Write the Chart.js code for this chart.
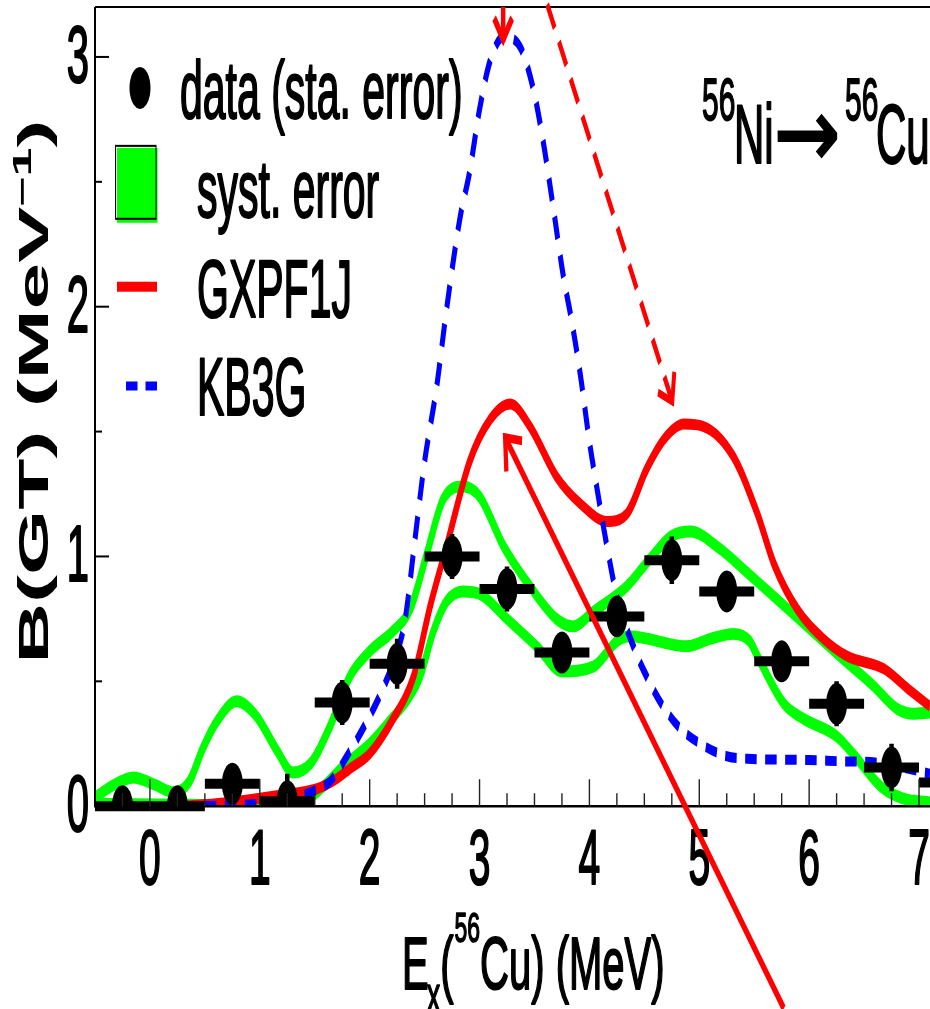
<!DOCTYPE html>
<html>
<head>
<meta charset="utf-8">
<script src="https://cdn.jsdelivr.net/npm/chart.js@4.4.1/dist/chart.umd.min.js"></script>
<style>
html,body{margin:0;padding:0;background:#fff;overflow:hidden}
canvas{display:block}
</style>
</head>
<body>
<canvas id="c" width="930" height="505" style="width:930px;height:1009px"></canvas>
<script>
// ---- data ----
const binCenters = [-0.25, 0.25, 0.75, 1.25, 1.75, 2.25, 2.75, 3.25, 3.75, 4.25, 4.75, 5.25, 5.75, 6.25, 6.75, 7.25];
const bgtValues  = [0.0, 0.0, 0.09, 0.02, 0.415, 0.57, 1.0, 0.87, 0.615, 0.76, 0.985, 0.86, 0.58, 0.41, 0.155, 0.095];
const statErrors = [0.03, 0.03, 0.07, 0.11, 0.09, 0.10, 0.09, 0.09, 0.08, 0.08, 0.095, 0.08, 0.08, 0.09, 0.095, 0.08];
const binHalfWidth = 0.25;

const gxpf1jX = [0.3, 0.6, 0.97, 1.2, 1.52, 1.7, 1.82, 2.0, 2.2, 2.4, 2.55, 2.7, 2.91, 3.1, 3.28, 3.46, 3.7, 3.92, 4.16, 4.34, 4.52, 4.68, 4.86, 5.04, 5.31, 5.53, 5.68, 5.89, 6.13, 6.35, 6.68, 6.9, 7.1];
const gxpf1jY = [0.0, 0.01, 0.03, 0.045, 0.07, 0.11, 0.15, 0.21, 0.34, 0.52, 0.80, 1.04, 1.38, 1.55, 1.61, 1.52, 1.32, 1.21, 1.14, 1.17, 1.35, 1.47, 1.53, 1.52, 1.40, 1.17, 0.97, 0.79, 0.67, 0.60, 0.55, 0.47, 0.40];

const kb3gX = [0.5, 1.0, 1.3, 1.46, 1.64, 1.82, 2.0, 2.1, 2.21, 2.32, 2.41, 2.5, 2.61, 2.7, 2.82, 2.91, 3.0, 3.1, 3.22, 3.37, 3.49, 3.58, 3.67, 3.76, 3.84, 3.92, 4.0, 4.07, 4.16, 4.25, 4.4, 4.52, 4.67, 4.83, 5.01, 5.25, 5.44, 6.0, 6.28, 6.6, 6.85, 7.1];
const kb3gY = [0.0, 0.01, 0.03, 0.055, 0.10, 0.22, 0.36, 0.45, 0.57, 0.74, 1.06, 1.38, 1.68, 1.99, 2.35, 2.54, 2.79, 2.99, 3.08, 3.04, 2.87, 2.66, 2.40, 2.13, 1.94, 1.72, 1.46, 1.27, 1.04, 0.84, 0.64, 0.52, 0.40, 0.31, 0.25, 0.20, 0.19, 0.185, 0.18, 0.175, 0.155, 0.13];

const systUpperX = [-0.5, -0.35, -0.15, 0.05, 0.22, 0.36, 0.48, 0.61, 0.79, 0.97, 1.16, 1.3, 1.46, 1.64, 1.82, 2.0, 2.21, 2.37, 2.52, 2.67, 2.85, 3.0, 3.22, 3.46, 3.7, 3.85, 4.04, 4.34, 4.55, 4.74, 4.92, 5.19, 5.4, 5.68, 5.98, 6.28, 6.59, 6.8, 6.95, 7.1];
const systUpperY = [0.035, 0.08, 0.115, 0.085, 0.055, 0.10, 0.23, 0.34, 0.42, 0.36, 0.22, 0.135, 0.17, 0.32, 0.52, 0.62, 0.70, 0.79, 1.01, 1.23, 1.28, 1.24, 1.04, 0.88, 0.75, 0.72, 0.78, 0.88, 0.99, 1.08, 1.10, 1.03, 0.95, 0.84, 0.72, 0.60, 0.48, 0.39, 0.37, 0.375];

const systLowerX = [-0.5, 0.5, 1.0, 1.4, 1.58, 1.76, 2.0, 2.2, 2.35, 2.46, 2.58, 2.7, 2.85, 3.0, 3.25, 3.52, 3.75, 4.04, 4.25, 4.37, 4.89, 5.1, 5.31, 5.46, 5.53, 5.77, 5.95, 6.25, 6.4, 6.65, 6.86, 7.1];
const systLowerY = [0.01, 0.005, 0.005, 0.02, 0.08, 0.16, 0.25, 0.35, 0.43, 0.52, 0.70, 0.82, 0.86, 0.85, 0.75, 0.64, 0.54, 0.56, 0.66, 0.68, 0.64, 0.67, 0.69, 0.66, 0.60, 0.41, 0.35, 0.28, 0.21, 0.08, 0.03, 0.015];

const xTickLabels = ['0', '1', '2', '3', '4', '5', '6', '7'];
const yTickLabels = ['0', '1', '2', '3'];
const legendLabels = ['data (sta. error)', 'syst. error', 'GXPF1J', 'KB3G'];

// annotation arrows, in data coordinates [x, y]
const arrowSolidFrom = [5.77, -0.81], arrowSolidTo = [3.233, 1.476];
const arrowDashFrom = [3.616, 3.21], arrowDashTo = [4.754, 1.62];
const arrowTopFrom = [3.215, 3.2], arrowTopTo = [3.215, 3.07];

// ---- rendering ----
const STRETCH = 1009 / 505;
const FONT = '"Liberation Sans", Arial, Helvetica, sans-serif';
const pts = (xs, ys) => xs.map((x, i) => ({x: x, y: ys[i]}));

// text drawn slightly heavier, like the original ROOT output
function heavyText(ctx, s, x, y, w) {
  ctx.fillText(s, x, y);
  ctx.save();
  ctx.lineWidth = w || 1.1;
  ctx.strokeStyle = ctx.fillStyle;
  ctx.lineJoin = 'round';
  ctx.strokeText(s, x, y);
  ctx.restore();
}

function arrowHead(ctx, x1, y1, x2, y2, len, ang) {
  const a = Math.atan2(y1 - y2, x1 - x2);
  ctx.setLineDash([]);
  ctx.beginPath();
  ctx.moveTo(x2 + len * Math.cos(a + ang), y2 + len * Math.sin(a + ang));
  ctx.lineTo(x2, y2);
  ctx.lineTo(x2 + len * Math.cos(a - ang), y2 + len * Math.sin(a - ang));
  ctx.stroke();
}
function drawArrow(chart, from, to, width, dash, len) {
  const ctx = chart.ctx, xs = chart.scales.x, ys = chart.scales.y;
  const x1 = xs.getPixelForValue(from[0]), y1 = ys.getPixelForValue(from[1]);
  const x2 = xs.getPixelForValue(to[0]), y2 = ys.getPixelForValue(to[1]);
  ctx.save();
  ctx.strokeStyle = '#ff0000';
  ctx.lineWidth = width;
  ctx.lineCap = 'butt';
  ctx.setLineDash(dash);
  ctx.beginPath(); ctx.moveTo(x1, y1); ctx.lineTo(x2, y2); ctx.stroke();
  ctx.lineJoin = 'miter';
  arrowHead(ctx, x1, y1, x2, y2, len, 0.7);
  ctx.restore();
}

const drawPlugin = {
  id: 'drawPlugin',
  beforeDraw(chart) {
    const ctx = chart.ctx;
    ctx.save();
    ctx.setTransform(1, 0, 0, STRETCH, 0, 0);
  },
  beforeDatasetDraw(chart, args) {
    if (args.index !== 0) return;
    const ctx = chart.ctx, xs = chart.scales.x, ys = chart.scales.y, ca = chart.chartArea;
    ctx.save();
    ctx.beginPath();
    ctx.rect(ca.left, ca.top, ca.right - ca.left, ca.bottom - ca.top + 3);
    ctx.clip();
    ctx.strokeStyle = '#000';
    ctx.lineCap = 'butt';
    for (let i = 0; i < binCenters.length; i++) {
      const cx = xs.getPixelForValue(binCenters[i]);
      const cy = ys.getPixelForValue(bgtValues[i]);
      ctx.lineWidth = 5;
      ctx.beginPath();
      ctx.moveTo(xs.getPixelForValue(binCenters[i] - binHalfWidth), cy);
      ctx.lineTo(xs.getPixelForValue(binCenters[i] + binHalfWidth), cy);
      ctx.stroke();
      ctx.lineWidth = 4.5;
      ctx.beginPath();
      ctx.moveTo(cx, ys.getPixelForValue(Math.max(0, bgtValues[i] - statErrors[i])));
      ctx.lineTo(cx, ys.getPixelForValue(bgtValues[i] + statErrors[i]));
      ctx.stroke();
    }
    ctx.restore();
  },
  afterDatasetsDraw(chart) {
    const ctx = chart.ctx, xs = chart.scales.x, ys = chart.scales.y, ca = chart.chartArea;
    ctx.save();
    ctx.strokeStyle = '#000';
    // frame lines
    ctx.lineWidth = 2;
    ctx.beginPath(); ctx.moveTo(ca.left, ca.top); ctx.lineTo(ca.left, ca.bottom + 0.6); ctx.stroke();
    ctx.lineWidth = 1;
    ctx.beginPath(); ctx.moveTo(ca.left, ca.top); ctx.lineTo(ca.right, ca.top); ctx.stroke();
    ctx.lineWidth = 1.3;
    ctx.beginPath(); ctx.moveTo(ca.left, ca.bottom); ctx.lineTo(ca.right, ca.bottom); ctx.stroke();
    // x ticks (inside)
    ctx.strokeStyle = '#222';
    ctx.lineWidth = 1.4;
    xs.ticks.forEach(t => {
      const v = t.value;
      if (Math.abs(v * 4 - Math.round(v * 4)) > 1e-6) return;
      const px = xs.getPixelForValue(v);
      if (px <= ca.left + 1) return;
      const major = Math.abs(v - Math.round(v)) < 1e-6;
      ctx.beginPath(); ctx.moveTo(px, ca.bottom); ctx.lineTo(px, ca.bottom - (major ? 13.5 : 6.5)); ctx.stroke();
    });
    // y ticks (inside)
    ctx.strokeStyle = '#000';
    ctx.lineWidth = 1;
    ys.ticks.forEach(t => {
      const v = t.value;
      if (Math.abs(v * 2 - Math.round(v * 2)) > 1e-6) return;
      const py = ys.getPixelForValue(v);
      if (py >= ca.bottom - 1) return;
      const major = Math.abs(v - Math.round(v)) < 1e-6;
      ctx.beginPath(); ctx.moveTo(ca.left, py); ctx.lineTo(ca.left + (major ? 14 : 7), py); ctx.stroke();
    });
    // tick labels
    ctx.fillStyle = '#000';
    ctx.font = '39px ' + FONT;
    ctx.textAlign = 'center';
    ctx.textBaseline = 'alphabetic';
    xs.ticks.forEach(t => {
      const v = t.value;
      if (Math.abs(v - Math.round(v)) > 1e-6) return;
      const idx = Math.round(v);
      if (idx < 0 || idx >= xTickLabels.length) return;
      heavyText(ctx, xTickLabels[idx], xs.getPixelForValue(v), 442.5);
    });
    ctx.font = '40px ' + FONT;
    ctx.textAlign = 'right';
    ctx.textBaseline = 'middle';
    ys.ticks.forEach(t => {
      const v = t.value;
      if (Math.abs(v - Math.round(v)) > 1e-6) return;
      const idx = Math.round(v);
      if (idx < 0 || idx >= yTickLabels.length) return;
      heavyText(ctx, yTickLabels[idx], 89, ys.getPixelForValue(v) + 1.5);
    });
    ctx.restore();
  },
  afterDraw(chart) {
    const ctx = chart.ctx;
    ctx.save();
    ctx.fillStyle = '#000';
    ctx.textAlign = 'left';
    ctx.textBaseline = 'alphabetic';

    // ---- legend ----
    ctx.beginPath(); ctx.arc(140, 44, 10.5, 0, Math.PI * 2); ctx.fill();
    ctx.fillStyle = '#00ff00';
    ctx.fillRect(117, 74, 40.5, 37.5);
    ctx.strokeStyle = '#000'; ctx.lineWidth = 1;
    ctx.strokeRect(115.5, 73, 40.5, 36.5);
    ctx.fillStyle = '#ff0000';
    ctx.fillRect(117, 141, 40, 5);
    ctx.strokeStyle = '#0000ff'; ctx.lineWidth = 4.5; ctx.setLineDash([11.5, 8]);
    ctx.beginPath(); ctx.moveTo(126, 193.2); ctx.lineTo(157, 193.2); ctx.stroke();
    ctx.setLineDash([]);
    ctx.fillStyle = '#000';
    ctx.font = '41px ' + FONT;
    heavyText(ctx, legendLabels[0], 180, 59);
    heavyText(ctx, legendLabels[1], 197, 108.5);
    heavyText(ctx, legendLabels[2], 197, 158.5);
    heavyText(ctx, legendLabels[3], 197, 207.5);

    // ---- reaction label 56Ni -> 56Cu ----
    ctx.font = '30px ' + FONT;
    heavyText(ctx, '56', 702, 60, 0.9);
    ctx.font = '42px ' + FONT;
    heavyText(ctx, 'Ni', 734, 81.5);
    ctx.save();
    ctx.font = 'bold 40px "DejaVu Sans", sans-serif';
    const m = ctx.measureText('→');
    const L = m.actualBoundingBoxLeft, R = m.actualBoundingBoxRight;
    const A = m.actualBoundingBoxAscent, D = m.actualBoundingBoxDescent;
    ctx.translate(777, 56.5);
    ctx.scale(61 / (L + R), 23.5 / (A + D));
    ctx.fillText('→', L, A);
    ctx.restore();
    ctx.font = '30px ' + FONT;
    heavyText(ctx, '56', 845, 60, 0.9);
    ctx.font = '42px ' + FONT;
    heavyText(ctx, 'Cu', 876, 81.5);

    // ---- x axis title ----
    ctx.save();
    ctx.translate(0, 495);
    ctx.scale(1, 0.92);
    let x = 402;
    ctx.font = '40px ' + FONT;
    heavyText(ctx, 'E', x, 0); x += ctx.measureText('E').width - 2;
    ctx.font = '27px ' + FONT;
    heavyText(ctx, 'x', x, 12.5, 0.9); x += ctx.measureText('x').width;
    ctx.font = '40px ' + FONT;
    heavyText(ctx, '(', x, 0); x += ctx.measureText('(').width;
    ctx.font = '23px ' + FONT;
    heavyText(ctx, '56', x + 1, -25.5, 0.9); x += ctx.measureText('56').width + 1;
    ctx.font = '40px ' + FONT;
    heavyText(ctx, 'Cu) (MeV)', x, 0);
    ctx.restore();

    // ---- y axis title ----
    ctx.save();
    ctx.translate(48, 196);
    ctx.rotate(-Math.PI / 2);
    const mainF = 'bold 42px ' + FONT, supF = 'bold 26px ' + FONT;
    ctx.font = mainF; const w1 = ctx.measureText('B(GT) (MeV').width; const w3 = ctx.measureText(')').width;
    ctx.font = supF; const w2 = ctx.measureText('\u22121').width;
    let t = -(w1 + w2 + w3) / 2;
    ctx.font = mainF; ctx.fillText('B(GT) (MeV', t, 0); t += w1;
    ctx.font = supF; ctx.fillText('\u22121', t, -17); t += w2;
    ctx.font = mainF; ctx.fillText(')', t, 0);
    ctx.restore();

    // ---- red annotation arrows ----
    drawArrow(chart, arrowSolidFrom, arrowSolidTo, 4.3, [], 17);
    drawArrow(chart, arrowDashFrom, arrowDashTo, 4, [14, 8], 15);
    drawArrow(chart, arrowTopFrom, arrowTopTo, 4.5, [], 14);

    ctx.restore();
    ctx.restore();
  }
};

const chart = new Chart(document.getElementById('c'), {
  type: 'line',
  data: {
    datasets: [
      {label: legendLabels[0], data: pts(binCenters, bgtValues), showLine: false,
       pointStyle: 'circle', pointRadius: 10.5, pointBackgroundColor: '#000', pointBorderWidth: 0},
      {label: legendLabels[3], data: pts(kb3gX, kb3gY), borderColor: '#0000ff', borderWidth: 5,
       borderDash: [11.5, 8.5], pointRadius: 0, cubicInterpolationMode: 'monotone'},
      {label: legendLabels[2], data: pts(gxpf1jX, gxpf1jY), borderColor: '#ff0000', borderWidth: 5.5,
       pointRadius: 0, cubicInterpolationMode: 'monotone'},
      {label: legendLabels[1] + ' (lower)', data: pts(systLowerX, systLowerY), borderColor: '#00ff00', borderWidth: 6,
       pointRadius: 0, cubicInterpolationMode: 'monotone'},
      {label: legendLabels[1] + ' (upper)', data: pts(systUpperX, systUpperY), borderColor: '#00ff00', borderWidth: 6,
       pointRadius: 0, cubicInterpolationMode: 'monotone'}
    ]
  },
  options: {
    responsive: false,
    animation: false,
    events: [],
    devicePixelRatio: 1,
    layout: {autoPadding: false, padding: {left: 95, right: 0, top: 3.5, bottom: 101.5}},
    plugins: {legend: {display: false}, tooltip: {enabled: false}, title: {display: false}},
    scales: {
      x: {type: 'linear', min: -0.5, max: 7.1,
          ticks: {stepSize: 0.25, display: false, includeBounds: false},
          grid: {display: false, drawTicks: false}, border: {display: false},
          afterFit: s => { s.height = 0; }},
      y: {type: 'linear', min: 0, max: 3.2,
          ticks: {stepSize: 0.5, display: false, includeBounds: false},
          grid: {display: false, drawTicks: false}, border: {display: false},
          afterFit: s => { s.width = 0; }}
    }
  },
  plugins: [drawPlugin]
});

// the original figure is stretched vertically: render the 930x505 layout into a 930x1009 bitmap
chart.canvas.height = 1009;
chart.draw();
</script>
</body>
</html>
